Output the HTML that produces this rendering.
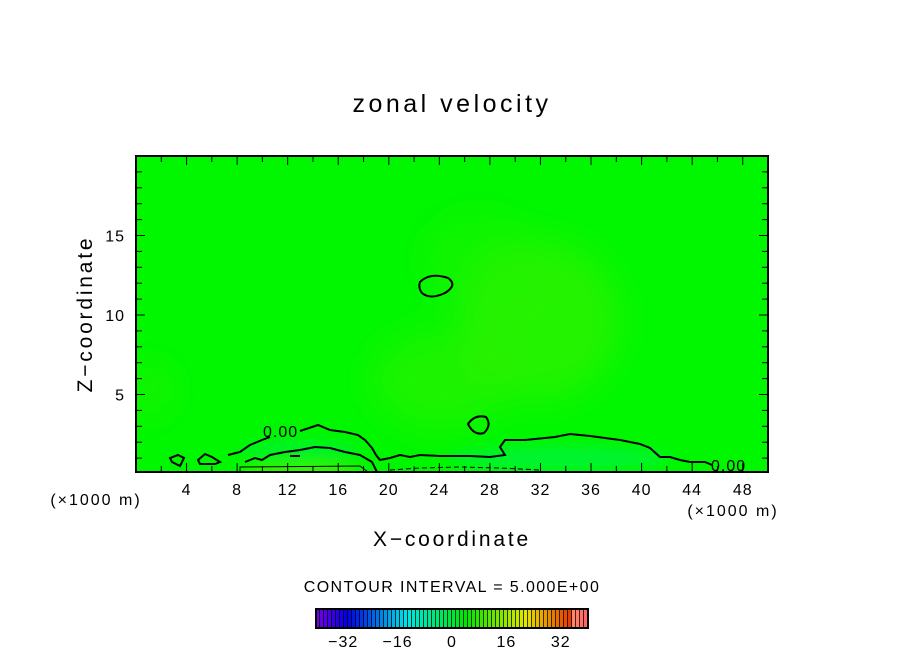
<!DOCTYPE html>
<html><head><meta charset="utf-8"><style>
html,body{margin:0;padding:0;background:#fff;}
svg{display:block;font-family:"Liberation Sans","DejaVu Sans",sans-serif;}
</style></head><body>
<svg id="chart" width="904" height="654" viewBox="0 0 904 654" xmlns="http://www.w3.org/2000/svg">
<defs>
<filter id="blur" x="-50%" y="-50%" width="200%" height="200%"><feGaussianBlur stdDeviation="18"/></filter>
<filter id="blur2" x="-50%" y="-50%" width="200%" height="200%"><feGaussianBlur stdDeviation="6"/></filter>
<clipPath id="plotclip"><rect x="136" y="156" width="632" height="316"/></clipPath>
</defs>
<text x="452" y="112" font-size="25" letter-spacing="3.5" text-anchor="middle" fill="#000">zonal velocity</text>
<g id="plot" clip-path="url(#plotclip)">
<rect x="136" y="156" width="632" height="316" fill="#00f700"/>
<g filter="url(#blur)">
<ellipse cx="540" cy="320" rx="80" ry="80" fill="#3af000" opacity="0.6"/>
<ellipse cx="440" cy="380" rx="70" ry="50" fill="#3af000" opacity="0.5"/>
<ellipse cx="480" cy="260" rx="60" ry="50" fill="#2af200" opacity="0.4"/>
<ellipse cx="150" cy="390" rx="25" ry="30" fill="#2af200" opacity="0.5"/>
</g>
<g filter="url(#blur2)">
<ellipse cx="300" cy="450" rx="60" ry="10" fill="#00f040" opacity="0.6"/>
<ellipse cx="560" cy="458" rx="110" ry="12" fill="#00f060" opacity="0.5"/>
<ellipse cx="300" cy="470" rx="60" ry="6" fill="#60f000" opacity="0.7"/>
</g>
<g fill="none" stroke="#000" stroke-width="2">
<path d="M228,455 L240,452 L250,445 L262,440 L270,437 M300,431 L318,425 L330,430 L345,432 L358,435 L365,440 L372,448 L376,455 L380,460 L390,458 L400,455 L410,457 L420,455 L440,456 L470,456 L490,457 L505,455 L500,447 L505,440 L525,440 L555,437 L570,434 L590,436 L620,440 L640,444 L650,448 L660,457 L670,457 L680,460 L690,462 L705,462 L712,465"/>
<path d="M245,462 L255,458 L262,460 L270,455 L285,452 L300,450 L315,447 L330,448 L345,452 L360,455 L372,462 L377,472"/>
<path d="M170,458 L178,455 L184,458 L180,466 L172,462 Z"/>
<path d="M198,460 L205,454 L212,457 L220,462 L215,464 L200,464 Z"/>
<path d="M420,282 Q430,272 448,278 Q458,285 445,293 Q430,300 422,293 Q418,288 420,282 Z"/>
<path d="M468,424 Q475,414 486,417 Q492,425 484,433 Q474,436 468,424 Z"/>
<path d="M290,456 L300,456"/>
</g>
<path d="M390,470 L420,468 L460,467 L500,468 L540,470" fill="none" stroke="#000" stroke-width="1" stroke-dasharray="5,3"/>
<path d="M240,472 L240,467 L360,466 L368,472" fill="none" stroke="#000" stroke-width="1"/>
<text x="263" y="437" font-size="16" letter-spacing="1" fill="#000">0.00</text>
<text x="711" y="471" font-size="16" letter-spacing="1" fill="#000">0.00</text>
</g>
<rect x="136" y="156" width="632" height="316" fill="none" stroke="#000" stroke-width="2"/>
<g id="axes" stroke="#000" stroke-width="1"></g>
<g id="labels" font-size="16" letter-spacing="1" fill="#000"></g>
<text x="96" y="505" font-size="16" letter-spacing="2" text-anchor="middle">(×1000 m)</text>
<text x="733" y="516" font-size="16" letter-spacing="2" text-anchor="middle">(×1000 m)</text>
<text x="452" y="546" font-size="21" letter-spacing="2.8" text-anchor="middle">X−coordinate</text>
<text x="92" y="314" font-size="21" letter-spacing="2.8" text-anchor="middle" transform="rotate(-90 92 314)">Z−coordinate</text>
<text x="452" y="592" font-size="16" letter-spacing="1.4" text-anchor="middle">CONTOUR INTERVAL = 5.000E+00</text>
<g id="colorbar"></g>
<rect x="316" y="609" width="272" height="19" fill="none" stroke="#000" stroke-width="2"/>
<g id="cblabels" font-size="16" letter-spacing="1" fill="#000"></g>
</svg>
<script>
const xTicksMajor = [4,8,12,16,20,24,28,32,36,40,44,48];
const xTickLabels = ["4","8","12","16","20","24","28","32","36","40","44","48"];
const zTicksMajor = [5,10,15];
const zTickLabels = ["5","10","15"];
const cbTicks = [-32,-16,0,16,32];
const cbTickLabels = ["−32","−16","0","16","32"];
const cbMin = -40, cbMax = 40;
const X0=136,X1=768,Y0=472,Y1=156;
const xs = v => X0 + v/50*(X1-X0);
const zs = v => 474 - v*15.9;
const NS="http://www.w3.org/2000/svg";
function mk(tag,attrs,parent){const e=document.createElementNS(NS,tag);for(const k in attrs)e.setAttribute(k,attrs[k]);parent.appendChild(e);return e;}
const ax=document.getElementById('axes'), lb=document.getElementById('labels');
for(let v=2;v<50;v+=2){const x=xs(v);const len=(v%4===0)?9:6;
 const t=mk('line',{x1:x,x2:x,y1:Y0,y2:Y0-len},ax);
 const t2=mk('line',{x1:x,x2:x,y1:Y1,y2:Y1+len},ax);}
for(let v=1;v<20;v++){const y=zs(v);const len=(v%5===0)?9:6;
 const t=mk('line',{x1:X0,x2:X0+len,y1:y,y2:y},ax);
 const t2=mk('line',{x1:X1,x2:X1-len,y1:y,y2:y},ax);}
xTicksMajor.forEach((v,i)=>{const t=mk('text',{x:xs(v),y:495,'text-anchor':'middle'},lb);t.textContent=xTickLabels[i];
 });
zTicksMajor.forEach((v,i)=>{const t=mk('text',{x:125,y:zs(v)+6,'text-anchor':'end'},lb);t.textContent=zTickLabels[i];
 });
const cb=document.getElementById('colorbar');
const cbx=v=>316+(v-cbMin)/(cbMax-cbMin)*272;
function col(f){const h=(1-f)*270;return `hsl(${h},100%,${f>0.95?70:45}%)`;}
const n=68;for(let i=0;i<n;i++){const f=i/(n-1);const x=316+i*272/n;
 const r=mk('rect',{x:x,y:609,width:272/n+0.3,height:19,fill:col(f)},cb);
 const l=mk('line',{x1:x+272/n,x2:x+272/n,y1:609,y2:628,stroke:'#000','stroke-width':1.5},cb);}
const cbl=document.getElementById('cblabels');
cbTicks.forEach((v,i)=>{const t=mk('text',{x:cbx(v),y:647,'text-anchor':'middle'},cbl);t.textContent=cbTickLabels[i];
 });
</script>
</body></html>
